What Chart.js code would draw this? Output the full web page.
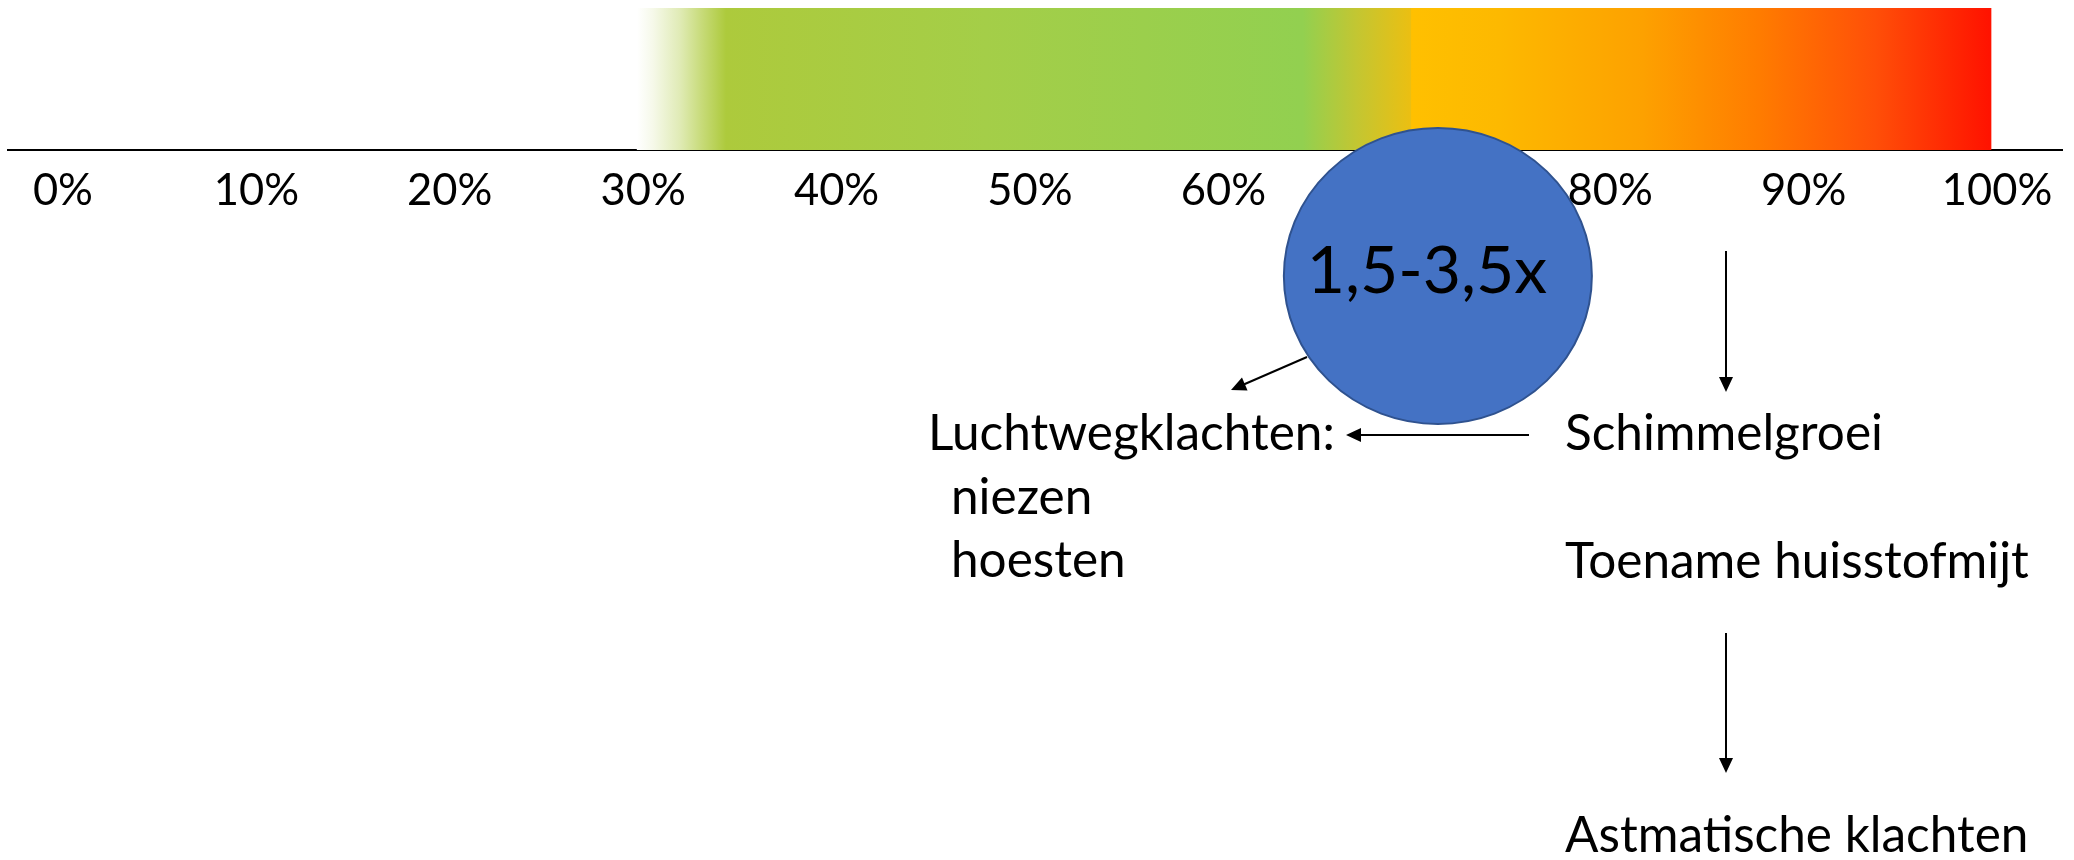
<!DOCTYPE html>
<html>
<head>
<meta charset="utf-8">
<script src="https://cdn.jsdelivr.net/npm/chart.js@4.4.0/dist/chart.umd.min.js"></script>
<style>
  html, body { margin: 0; padding: 0; background: #fff; }
  #wrap { width: 2074px; height: 860px; position: relative; }
</style>
</head>
<body>
<div id="wrap"><canvas id="rv"></canvas></div>
<script>
// data
const categories = ['Relatieve luchtvochtigheid'];
const segNames = ['gezond', 'te vochtig'];
const segStart = [30, 70];
const segEnd = [70, 100];
const tickValues = [0, 10, 20, 30, 40, 50, 60, 70, 80, 90, 100];
const tickLabels = ['0%', '10%', '20%', '30%', '40%', '50%', '60%', '70%', '80%', '90%', '100%'];
const riskAt = 71.4;          // where the risk bubble sits on the scale
const riskLabel = '1,5-3,5x';

// gradient stops per segment (style only)
const segStops = [
  [[0, '#ffffff'], [0.02, '#f6f9ea'], [0.055, '#e0ebb6'], [0.085, '#c6da76'], [0.115, '#adca3c'],
   [0.45, '#a4ce48'], [0.86, '#92d050'], [0.93, '#c3c632'], [1, '#ebbf12']],
  [[0, '#ffc000'], [0.15, '#fdb900'], [0.4, '#fda100'], [0.6, '#ff7c00'], [0.8, '#ff4f08'], [1, '#ff1200']]
];

// annotation layout below the axis (pixels relative to axis line)
const notes = [
  { text: 'Luchtwegklachten:', x: 928, dy: 300 },
  { text: 'niezen', x: 951, dy: 364 },
  { text: 'hoesten', x: 951, dy: 427 },
  { text: 'Schimmelgroei', x: 1565, dy: 300 },
  { text: 'Toename huisstofmijt', x: 1565, dy: 428 },
  { text: 'Astmatische klachten', x: 1565, dy: 702 }
];
const arrows = [
  [1726, 101, 1726, 242],
  [1529, 285, 1346, 285],
  [1307, 207, 1231, 240],
  [1726, 483, 1726, 623]
];

function drawArrow(ctx, x1, y1, x2, y2) {
  const ang = Math.atan2(y2 - y1, x2 - x1);
  const len = 15, hw = 7;
  ctx.beginPath();
  ctx.moveTo(x1, y1);
  ctx.lineTo(x2 - Math.cos(ang) * len * 0.8, y2 - Math.sin(ang) * len * 0.8);
  ctx.stroke();
  ctx.beginPath();
  ctx.moveTo(x2, y2);
  ctx.lineTo(x2 - Math.cos(ang) * len - Math.sin(ang) * hw, y2 - Math.sin(ang) * len + Math.cos(ang) * hw);
  ctx.lineTo(x2 - Math.cos(ang) * len + Math.sin(ang) * hw, y2 - Math.sin(ang) * len - Math.cos(ang) * hw);
  ctx.closePath();
  ctx.fill();
}

const diagram = {
  id: 'diagram',
  afterDraw(chart) {
    const ctx = chart.ctx;
    const axisY = chart.chartArea.bottom;
    const cx = chart.scales.x.getPixelForValue(riskAt);
    const cy = axisY + 126;
    ctx.save();
    // bubble
    ctx.beginPath();
    ctx.ellipse(cx, cy, 154, 148, 0, 0, Math.PI * 2);
    ctx.fillStyle = '#4472c4';
    ctx.fill();
    ctx.lineWidth = 2;
    ctx.strokeStyle = '#2f528f';
    ctx.stroke();
    ctx.fillStyle = '#000';
    ctx.textBaseline = 'alphabetic';
    ctx.textAlign = 'center';
    ctx.font = '66px Lato';
    ctx.fillText(riskLabel, cx - 11, cy + 17);
    // texts
    ctx.textAlign = 'left';
    ctx.font = '49.5px Lato';
    notes.forEach(n => ctx.fillText(n.text, n.x, axisY + n.dy));
    // arrows
    ctx.strokeStyle = '#000';
    ctx.lineWidth = 2;
    arrows.forEach(a => drawArrow(ctx, a[0], axisY + a[1], a[2], axisY + a[3]));
    ctx.restore();
  }
};

Chart.defaults.font.family = 'Lato';
Chart.defaults.color = '#000';

new Chart(document.getElementById('rv'), {
  type: 'bar',
  data: {
    labels: categories,
    datasets: segNames.map((name, i) => ({
      label: name,
      data: [[segStart[i], segEnd[i]]],
      borderWidth: 0,
      barPercentage: 1,
      categoryPercentage: 1,
      backgroundColor: ctx => {
        const chart = ctx.chart;
        if (!chart.chartArea) return segStops[i][1][1];
        const xs = chart.scales.x;
        const g = chart.ctx.createLinearGradient(xs.getPixelForValue(segStart[i]), 0, xs.getPixelForValue(segEnd[i]), 0);
        segStops[i].forEach(s => g.addColorStop(s[0], s[1]));
        return g;
      }
    }))
  },
  options: {
    indexAxis: 'y',
    responsive: true,
    maintainAspectRatio: false,
    devicePixelRatio: 1,
    animation: false,
    grouped: false,
    layout: { padding: { top: 8, left: 8, right: 12, bottom: 627.8 } },
    plugins: { legend: { display: false }, tooltip: { enabled: false } },
    scales: {
      x: {
        min: -2.53,
        max: 103.67,
        afterBuildTicks: axis => { axis.ticks = tickValues.map(v => ({ value: v })); },
        grid: { display: false, drawTicks: false },
        border: { display: true, color: '#000', width: 2 },
        ticks: {
          padding: 15,
          labelOffset: 6,
          maxRotation: 0,
          autoSkip: false,
          font: { size: 43.5, lineHeight: 1.2 },
          callback: (v) => tickLabels[tickValues.indexOf(v)]
        }
      },
      y: { display: false }
    }
  },
  plugins: [diagram]
});
</script>
</body>
</html>
